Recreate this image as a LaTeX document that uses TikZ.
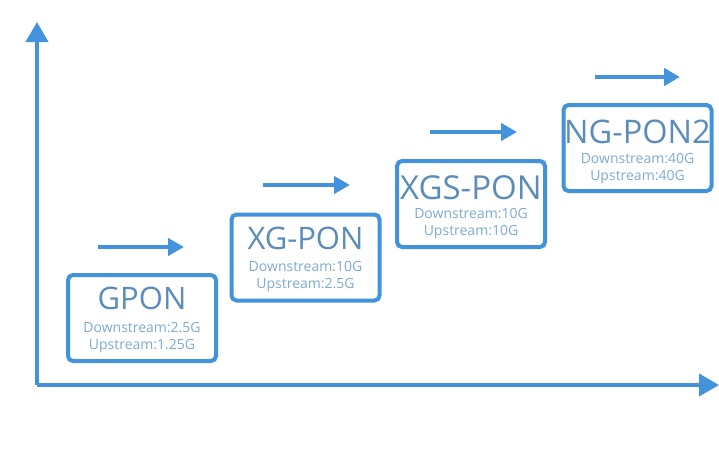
\documentclass[tikz,border=0pt]{standalone}
\usepackage{fontspec}
\setmainfont{Open Sans}
\usetikzlibrary{arrows.meta}
\definecolor{ponblue}{RGB}{66,146,220}
\definecolor{pontitle}{RGB}{92,140,185}
\definecolor{ponrate}{RGB}{125,170,210}
\tikzstyle{ponbox}=[rectangle,draw=ponblue,line width=4pt,rounded corners=5pt,minimum width=148pt,minimum height=86pt]
\tikzstyle{pontext}=[text=pontitle,inner sep=0pt]
\tikzstyle{ratetext}=[text=ponrate,inner sep=0pt,align=center,font=\fontsize{14}{17}\selectfont]
\tikzstyle{step arrow}=[draw=ponblue,line width=4pt,-{Triangle[length=16pt,width=17pt]}]
\tikzstyle{axis}=[draw=ponblue,line width=4pt,-{Triangle[length=20pt,width=22pt]}]

\begin{document}
\begin{tikzpicture}[x=1pt,y=-1pt]
		\useasboundingbox (0,0) rectangle (719,458);
		% axes
		\coordinate (o) at (37,385);
		\coordinate (xend) at (719,385);
		\coordinate (yend) at (37,22);
		\draw[axis] (o)--(yend);
		\draw[axis] (o)--(xend);
		% boxes
		\node[ponbox] (gpon) at (142,318) {};
		\node[ponbox] (xgpon) at (305.5,257.5) {};
		\node[ponbox] (xgspon) at (471,204) {};
		\node[ponbox] (ngpon) at (637.5,148) {};
		\node[pontext,font=\fontsize{31}{31}\selectfont] (gponT) at (142,298) {GPON};
		\node[pontext,font=\fontsize{31}{31}\selectfont] (xgponT) at (305.5,238) {XG-PON};
		\node[pontext,font=\fontsize{33}{33}\selectfont] (xgsponT) at (471,188) {XGS-PON};
		\node[pontext,font=\fontsize{32.5}{32.5}\selectfont] (ngponT) at (637.5,132) {NG-PON2};
		\node[ratetext] (gponR) at (142,337.5) {Downstream:2.5G\\Upstream:1.25G};
		\node[ratetext] (xgponR) at (305.5,277) {Downstream:10G\\Upstream:2.5G};
		\node[ratetext] (xgsponR) at (471,223.5) {Downstream:10G\\Upstream:10G};
		\node[ratetext] (ngponR) at (637.5,168.5) {Downstream:40G\\Upstream:40G};
		% arrows
		\coordinate (a1) at (98,247);
		\coordinate (b1) at (184,247);
		\coordinate (a2) at (263,185);
		\coordinate (b2) at (350,185);
		\coordinate (a3) at (430,132);
		\coordinate (b3) at (517,132);
		\coordinate (a4) at (595,77);
		\coordinate (b4) at (680,77);
		\draw[step arrow] (a1)--(b1);
		\draw[step arrow] (a2)--(b2);
		\draw[step arrow] (a3)--(b3);
		\draw[step arrow] (a4)--(b4);
	\end{tikzpicture}
\end{document}
